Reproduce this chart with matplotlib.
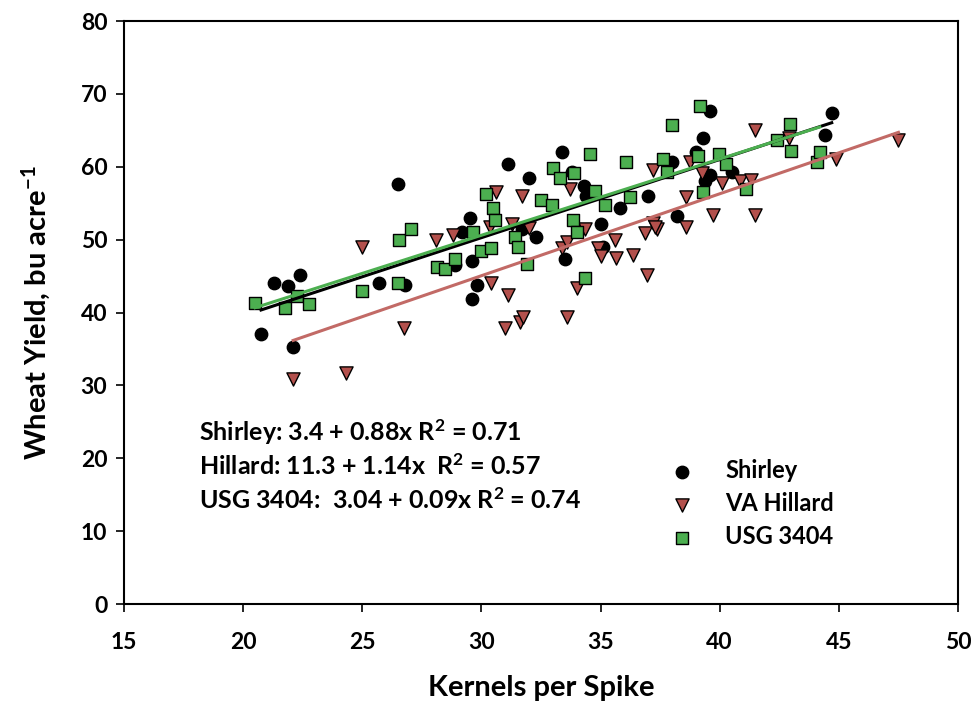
import numpy as np
import matplotlib
matplotlib.use("Agg")
import matplotlib.pyplot as plt

plt.rcParams['font.family'] = ['Lato', 'DejaVu Sans']
plt.rcParams['font.weight'] = 'bold'
plt.rcParams['axes.labelweight'] = 'bold'
plt.rcParams['mathtext.fontset'] = 'custom'
plt.rcParams['mathtext.rm'] = 'Lato:bold'
plt.rcParams['mathtext.it'] = 'Lato:bold'
plt.rcParams['mathtext.bf'] = 'Lato:bold'

# kernels per spike / wheat yield (bu/acre)
shirley_x = [20.75, 21.3, 21.9, 22.4, 22.1, 25.7, 26.5, 26.8, 28.9, 29.2, 29.5, 29.6,
             29.6, 29.8, 31.1, 31.7, 32.0, 32.3, 33.4, 33.5, 33.8, 34.3, 34.4, 35.0,
             35.1, 35.8, 37.0, 38.0, 38.2, 39.0, 39.3, 39.6, 39.6, 39.4, 40.5, 44.4, 44.7]
shirley_y = [37.0, 44.1, 43.7, 45.1, 35.3, 44.0, 57.7, 43.8, 46.5, 51.0, 53.0, 47.0,
             41.8, 43.8, 60.4, 51.4, 58.4, 50.4, 62.0, 47.3, 59.3, 57.3, 56.0, 52.1,
             49.0, 54.3, 56.0, 60.6, 53.2, 62.0, 64.0, 67.6, 58.9, 58.0, 59.3, 64.4, 67.4]

hillard_x = [22.1, 24.3, 25.0, 26.75, 28.1, 28.8, 30.36, 30.4, 30.6, 31.7, 33.7, 31.3,
             32.0, 31.1, 31.0, 31.6, 31.74, 33.6, 34.0, 33.4, 33.6, 34.35, 34.9, 35.0,
             35.6, 35.65, 36.36, 36.95, 36.86, 37.2, 37.37, 37.3, 38.6, 38.6, 37.2, 38.75,
             39.25, 39.7, 40.1, 40.85, 41.3, 41.5, 41.5, 42.9, 44.9, 47.5]
hillard_y = [30.9, 31.7, 49.0, 37.9, 50.0, 50.7, 51.7, 44.1, 56.5, 56.0, 57.0, 52.1,
             51.6, 42.4, 37.9, 38.7, 39.4, 39.4, 43.4, 48.8, 49.7, 51.4, 48.9, 47.7,
             49.9, 47.5, 47.9, 45.2, 50.9, 52.3, 51.5, 51.8, 51.8, 55.8, 59.6, 60.7,
             59.2, 53.4, 57.8, 58.0, 58.2, 53.4, 65.1, 64.0, 61.0, 63.7]

usg_x = [20.5, 21.76, 22.26, 22.76, 24.99, 26.5, 26.54, 27.04, 28.13, 28.47, 28.9, 29.64,
         30.0, 30.4, 30.2, 30.5, 30.57, 31.4, 31.55, 31.9, 32.5, 32.96, 33.0, 33.3,
         33.9, 34.55, 33.84, 34.0, 34.77, 35.18, 36.07, 36.23, 34.35, 38.0, 37.6, 37.8,
         39.17, 39.1, 39.3, 39.97, 40.26, 41.1, 42.4, 42.95, 43.0, 44.1, 44.2]
usg_y = [41.3, 40.6, 42.3, 41.2, 42.9, 44.1, 50.0, 51.5, 46.3, 46.0, 47.3, 51.0,
         48.4, 48.8, 56.2, 54.4, 52.7, 50.4, 49.0, 46.7, 55.4, 54.8, 59.8, 58.5,
         59.2, 61.7, 52.7, 51.1, 56.7, 54.8, 60.6, 55.9, 44.8, 65.7, 61.1, 59.3,
         68.4, 61.5, 56.5, 61.8, 60.4, 57.0, 63.7, 65.9, 62.1, 60.6, 62.0]

series = [
    ("Shirley", shirley_x, shirley_y, 'o', 'black', 'black', 80),
    ("VA Hillard", hillard_x, hillard_y, 'v', '#b3504c', '#c26a66', 90),
    ("USG 3404", usg_x, usg_y, 's', '#4caf50', '#4caf50', 80),
]

equations = [
    "Shirley: 3.4 + 0.88x R$^{2}$ = 0.71",
    "Hillard: 11.3 + 1.14x  R$^{2}$ = 0.57",
    "USG 3404:  3.04 + 0.09x R$^{2}$ = 0.74",
]

fig = plt.figure(figsize=(9.74, 7.17), dpi=100)
ax = fig.add_axes([0.1273, 0.1576, 0.8563, 0.8131])

for name, xs, ys, mk, col, lcol, sz in series:
    xs = np.array(xs)
    ys = np.array(ys)
    ax.scatter(xs, ys, marker=mk, s=sz, color=col, edgecolors='black',
               linewidths=1.0, label=name, zorder=2)
    # linear trend over the range of each cultivar
    slope, icpt = np.polyfit(xs, ys, 1)
    xl = np.array([xs.min(), xs.max()])
    ax.plot(xl, icpt + slope * xl, color=lcol, lw=2.2, zorder=3)

for i, txt in enumerate(equations):
    ax.text(18.15, 23.6 - i * 4.65, txt, fontsize=18, va='center', ha='left')

ax.set_xlim(15, 50)
ax.set_ylim(0, 80)
ax.set_xticks(range(15, 51, 5))
ax.set_yticks(range(0, 81, 10))
ax.tick_params(direction='out', length=6, width=1.2, labelsize=16.5)
ax.tick_params(axis='x', pad=14)
ax.tick_params(axis='y', pad=6)
for sp in ax.spines.values():
    sp.set_linewidth(1.5)

ax.set_xlabel("Kernels per Spike", fontsize=21, labelpad=16)
ax.set_ylabel("Wheat Yield, bu acre$^{-1}$", fontsize=21, labelpad=20)

ax.legend(loc='upper left', bbox_to_anchor=(0.63, 0.285), frameon=False,
          fontsize=17, handlelength=1.0, handletextpad=1.3, labelspacing=0.42,
          scatterpoints=1)

fig.savefig("out.png", dpi=100)
